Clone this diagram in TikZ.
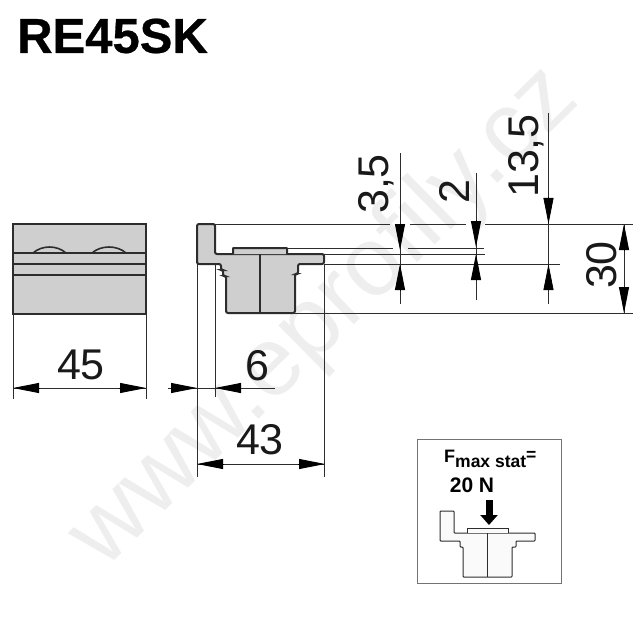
\documentclass[tikz,border=0pt]{standalone}
\usepackage{fontspec}
\setmainfont{Liberation Sans}
\newfontfamily\headfont{Liberation Sans}[BoldFeatures={FakeBold=0.6}]
\usepackage{xcolor}
\usetikzlibrary{arrows.meta,positioning,calc}
\definecolor{profilegray}{RGB}{208,207,207}
\definecolor{inkgray}{RGB}{45,45,45}
\definecolor{stampgray}{RGB}{238,238,238}

\begin{document}
\begin{tikzpicture}[x=1pt,y=-1pt]

    \tikzstyle{every edge}=[draw,inkgray,line width=.8pt]
    \tikzstyle{guide}=[draw,inkgray,line width=.8pt]
    \tikzstyle{tip}=[draw,black,line width=.8pt,-{Triangle[length=26pt,width=10pt]}]
    \tikzstyle{body}=[draw=inkgray,fill=profilegray,line width=2pt,rounded corners=2pt]
    \tikzstyle{small}=[draw=inkgray,fill=black!2,line width=1pt,rounded corners=.8pt]
    \tikzstyle{size}=[inner sep=0pt,text=black!90,font=\fontsize{43}{43}\selectfont]

    \useasboundingbox (0,0) rectangle (643,644);

    \node[rotate=44.5,text=stampgray,inner sep=0pt,font=\fontsize{98}{98}\selectfont] (stamp) at (325,318) {www.eprofily.cz};

    \node[anchor=west,inner sep=0pt,font=\headfont\bfseries\fontsize{49}{49}\selectfont] (title) at (17,36) {RE45SK};

    \draw[body,rounded corners=0pt] (13,224) rectangle (146,314);
    \draw[inkgray,line width=2pt] (13,253) -- (146,253) (13,263.5) -- (146,263.5) (13,275) -- (146,275);
    \draw[inkgray,line width=1.6pt] (33,253) .. controls (42,245) and (57,245) .. (66,253);
    \draw[inkgray,line width=1.6pt] (92,253) .. controls (101,245) and (117,245) .. (126,253);

    \draw[body] (197,264) -- (197,224) -- (215,224) -- (215,254) -- (324,254) -- (324,264) -- (298,264) -- (298,274) -- (295,274) -- (295,313) -- (226,313) -- (226,276) -- (223,276) -- (223,270) -- (221,270) -- (221,264) -- cycle;
    \draw[body,rounded corners=.5pt] (233,254) -- (233,248) -- (287,248) -- (287,254);
    \coordinate (C1) at (260,254);
    \coordinate (C2) at (260,313);
    \draw[inkgray,line width=2pt] (C1) -- (C2);

    \path (215,224) edge (390,224);
    \path (410,224) edge (466,224);
    \path (485,224) edge (633,224);
    \path (287,248) edge (393,248);
    \path (408,248) edge (484,248);
    \path (324,254) edge (485,254);
    \path (324,264.5) edge (560,264.5);
    \path (294,313) edge (633,313);

    \coordinate (L1) at (13,314);
    \coordinate (L2) at (13,399);
    \coordinate (R1) at (146,314);
    \coordinate (R2) at (146,399);
    \path (L1) edge (L2);
    \path (R1) edge (R2);
    \path (197,264) edge (197,477);
    \path (215,264) edge (215,397);
    \path (324,264) edge (324,477);

    \node[size] (n45) at (81,365) {45};
    \draw[guide] (L1 |- 0,388) -- (R1 |- 0,388);
    \draw[tip] (40,388) -- (13,388);
    \draw[tip] (119,388) -- (146,388);

    \node[size] (n6) at (257,366) {6};
    \draw[guide] (168,388) -- (275,388);
    \draw[tip] (172,388) -- (197,388);
    \draw[tip] (240,388) -- (215,388);

    \node[size] (n43) at (260,440) {43};
    \draw[guide] (197,464) -- (325,464);
    \draw[tip] (224,464) -- (197,464);
    \draw[tip] (298,464) -- (325,464);

    \node[size,rotate=90] (n35) at (376,184) {3,5};
    \draw[guide] (400,153) -- (400,304);
    \draw[tip] (400,224) -- (400,250);
    \draw[tip] (400,290) -- (400,264);

    \node[size,rotate=90] (n2) at (454,192) {2};
    \draw[guide] (476,173) -- (476,300);
    \draw[tip] (476,220) -- (476,247);
    \draw[tip] (476,279) -- (476,254);

    \node[size,rotate=90] (n135) at (526,156) {13,5};
    \draw[guide] (548.5,113) -- (548.5,304);
    \draw[tip] (548.5,197) -- (548.5,224);
    \draw[tip] (548.5,289) -- (548.5,264);

    \node[size,rotate=90] (n30) at (602,265) {30};
    \draw[guide] (624,224) -- (624,313);
    \draw[tip] (624,251) -- (624,224);
    \draw[tip] (624,287) -- (624,313);

    \node[draw=black!55,line width=1pt,minimum width=144pt,minimum height=144pt,inner sep=0pt] (inset) at (489,511) {};
    \node[anchor=west,inner sep=0pt,font=\bfseries\fontsize{17.5}{18}\selectfont] (fmax) at (444,459) {{\fontsize{18}{18}\selectfont F}\raisebox{-5.5pt}{max stat}\raisebox{2pt}{=}};
    \node[inner sep=0pt,font=\bfseries\fontsize{21}{21}\selectfont] (force) at (472,485) {20 N};
    \draw[black,line width=7pt,-{Triangle[length=10pt,width=17pt]}] (489,500) -- (489,525);

    \draw[small] (440,541) -- (440,511) -- (454,511) -- (454,533) -- (535,533) -- (535,541) -- (516,541) -- (516,547) -- (512,547) -- (512,577) -- (463,577) -- (463,547) -- (460,547) -- (460,541) -- cycle;
    \draw[small,rounded corners=0pt] (467,533) -- (467,528) -- (508,528) -- (508,533);
    \draw[inkgray,line width=1pt] (487.5,533) -- (487.5,577);

\end{tikzpicture}
\end{document}
